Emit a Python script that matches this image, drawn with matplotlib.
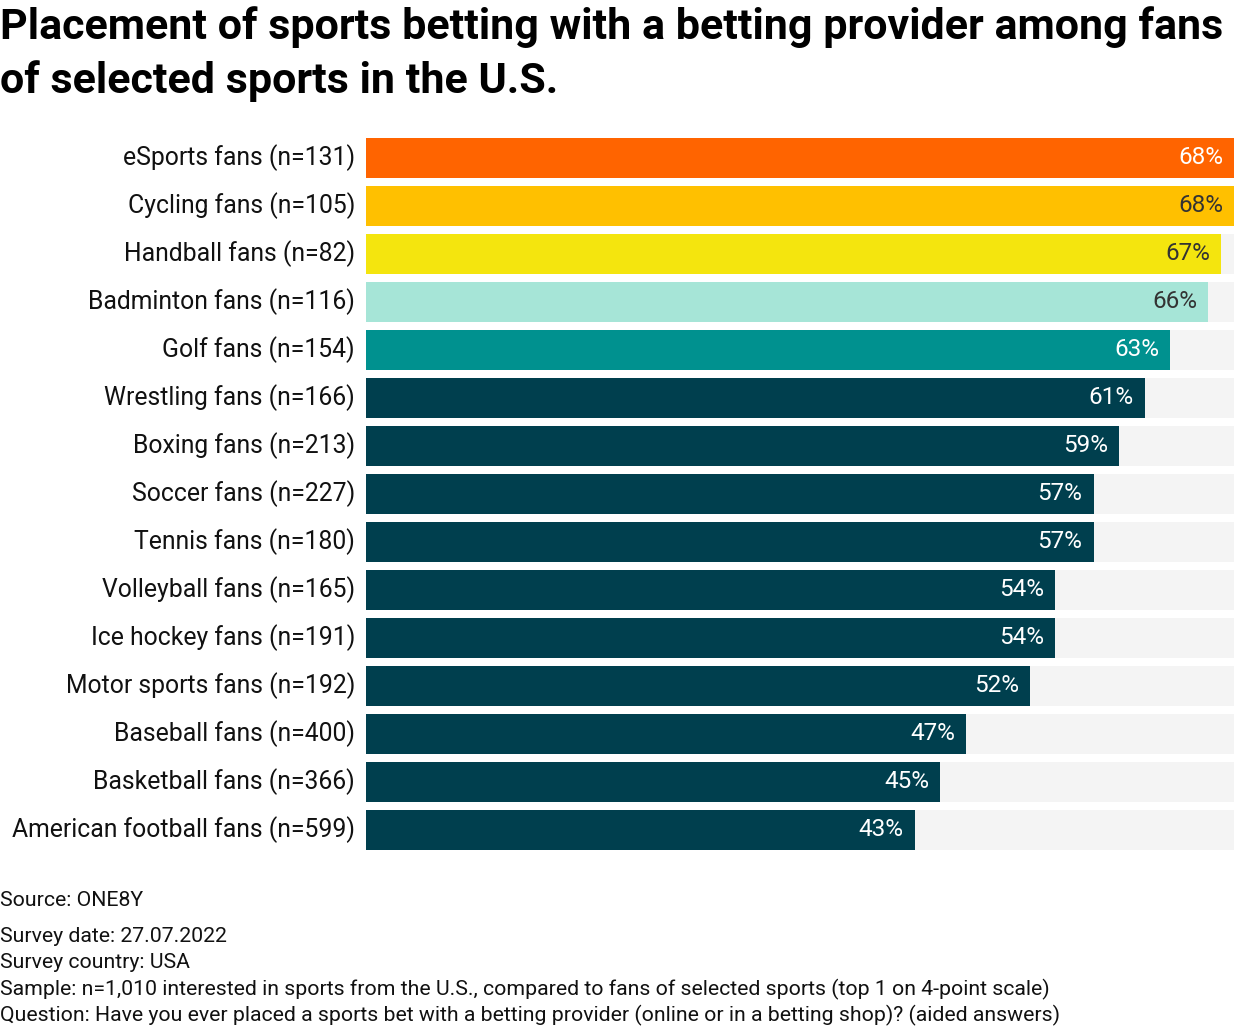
import matplotlib
matplotlib.use("Agg")
import matplotlib.pyplot as plt
import matplotlib.transforms as mtransforms

categories = ["eSports fans (n=131)", "Cycling fans (n=105)", "Handball fans (n=82)",
              "Badminton fans (n=116)", "Golf fans (n=154)", "Wrestling fans (n=166)",
              "Boxing fans (n=213)", "Soccer fans (n=227)", "Tennis fans (n=180)",
              "Volleyball fans (n=165)", "Ice hockey fans (n=191)", "Motor sports fans (n=192)",
              "Baseball fans (n=400)", "Basketball fans (n=366)", "American football fans (n=599)"]
values = [68, 68, 67, 66, 63, 61, 59, 57, 57, 54, 54, 52, 47, 45, 43]
dark = "#003F4E"
colors = ["#FF6400", "#FFC000", "#F4E50E", "#A6E5D7", "#00918F"] + [dark] * 10
text_colors = ["white", "#333333", "#333333", "#333333", "white"] + ["white"] * 10

title = "Placement of sports betting with a betting provider among fans\nof selected sports in the U.S."
footer_source = "Source: ONE8Y"
footer_lines = ["Survey date: 27.07.2022",
                "Survey country: USA",
                "Sample: n=1,010 interested in sports from the U.S., compared to fans of selected sports (top 1 on 4-point scale)",
                "Question: Have you ever placed a sports bet with a betting provider (online or in a betting shop)? (aided answers)"]

plt.rcParams['font.family'] = ['Roboto', 'DejaVu Sans']

fig = plt.figure(figsize=(12.36, 10.30), dpi=100)
ax = fig.add_axes([366/1236, 1-854/1030, 868/1236, 720/1030])

n = len(categories)
ypos = list(range(n))
maxv = max(values)
ax.barh(ypos, [maxv]*n, height=40/48, color="#F4F4F4", zorder=1)
ax.barh(ypos, values, height=40/48, color=colors, zorder=2)
for y, v, tc in zip(ypos, values, text_colors):
    ax.annotate(f"{v}%", xy=(v, y), xytext=(-8, 0), textcoords="offset points",
                ha="right", va="center", color=tc, fontsize=17.5, zorder=3)

ax.set_xlim(0, maxv)
ax.set_ylim(n - 0.5, -0.5)
ax.set_yticks(ypos)
ax.set_yticklabels(categories, fontsize=17.8, color="#111111")
ax.tick_params(axis="y", length=0, pad=8)
ax.set_xticks([])
for s in ax.spines.values():
    s.set_visible(False)
offset = mtransforms.ScaledTranslation(0, 3/100, fig.dpi_scale_trans)
for lbl in ax.get_yticklabels():
    lbl.set_transform(lbl.get_transform() + offset)

fig.text(0.0, 1 - 6/1030, title, ha="left", va="top", fontsize=31, fontweight="bold",
         color="#000000", linespacing=1.38)

fig.text(0.0, 1 - 901/1030, footer_source, ha="left", va="center", fontsize=15.3, color="#111111")
for i, line in enumerate(footer_lines):
    fig.text(0.0, 1 - (937 + 26*i)/1030, line, ha="left", va="center", fontsize=15.3, color="#111111")

fig.savefig("out.png", dpi=100)
